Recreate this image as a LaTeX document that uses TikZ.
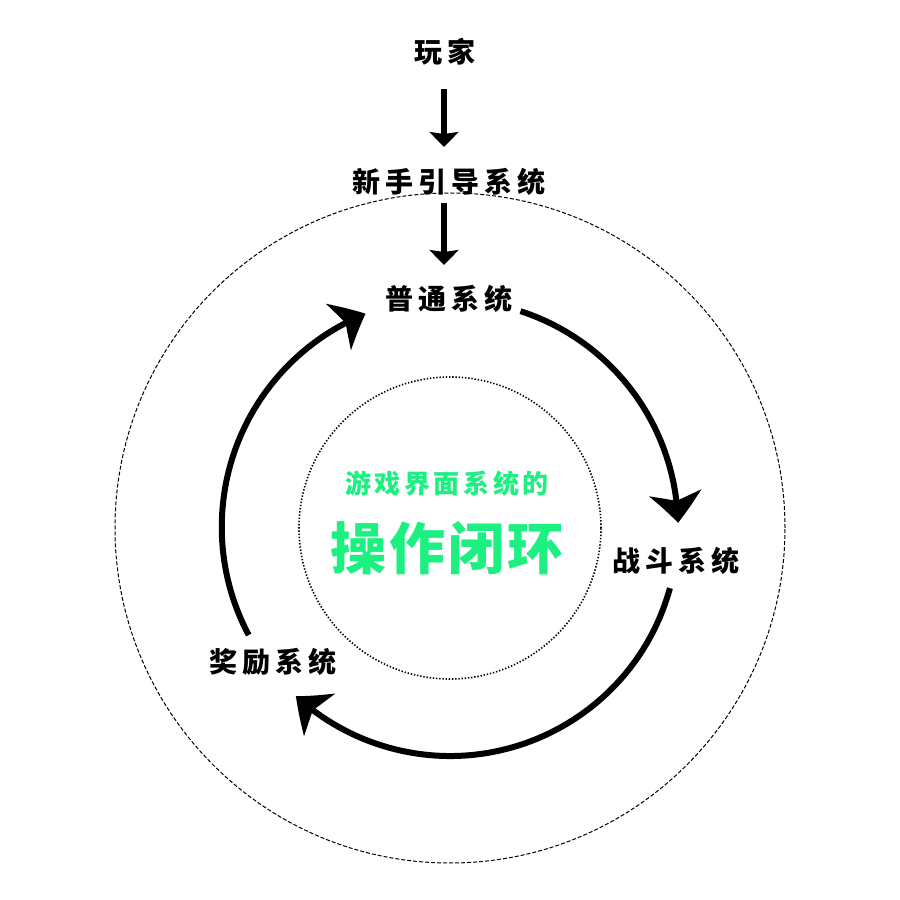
\documentclass[tikz,border=0pt]{standalone}
\usepackage{fontspec}
\usetikzlibrary{arrows.meta,bending,calc}
\newfontfamily\cjk[LetterSpace=18]{Noto Sans CJK SC}
\newfontfamily\cjksub[LetterSpace=14]{Noto Sans CJK SC}
\newfontfamily\cjkmain[LetterSpace=5]{Noto Sans CJK SC}
\definecolor{loopgreen}{RGB}{28,240,128}
\begin{document}
\begin{tikzpicture}[x=0.5pt,y=0.5pt,
  lbl/.style={font=\cjk\bfseries\fontsize{14pt}{16pt}\selectfont, inner sep=0pt},
  sublbl/.style={font=\cjksub\bfseries\fontsize{13pt}{15pt}\selectfont, text=loopgreen, inner sep=0pt},
  mainlbl/.style={font=\cjkmain\bfseries\fontsize{28pt}{30pt}\selectfont, text=loopgreen, inner sep=0pt},
  downarrow/.style={line width=3.3pt, -{Stealth[length=7.5pt,width=14.5pt,inset=1pt]}},
  looparrow/.style={line width=3pt, -{Stealth[length=15pt,width=26pt,inset=4pt,bend]}},
  outerring/.style={line width=0.5pt, dash pattern=on 2pt off 1pt},
  innerring/.style={line width=0.8pt, dash pattern=on 0.7pt off 0.9pt}]
\useasboundingbox (0,0) rectangle (900,900);
\coordinate (c) at (450,372);
\draw[outerring] (c) circle[radius=335];
\draw[innerring] (c) circle[radius=151];

\node[lbl] (player) at (445,848) {玩家};
\node[lbl] (guide) at (449,718) {新手引导系统};
\node[lbl] (normal) at (449,601) {普通系统};
\node[lbl] (battle) at (676,339) {战斗系统};
\node[lbl] (reward) at (273,238) {奖励系统};
\node[sublbl] (sub) at (447,416) {游戏界面系统的};
\node[mainlbl] (main) at (447,352) {操作闭环};

\coordinate (a1s) at ($(player)+(-1,-37)$);
\coordinate (a1e) at ($(guide)+(-5,35)$);
\coordinate (a2s) at ($(guide)+(-5,-21)$);
\coordinate (a2e) at ($(normal)+(-5,34)$);
\draw[downarrow] (a1s) -- (a1e);
\draw[downarrow] (a2s) -- (a2e);

\draw[looparrow] ($(c)+(72:228)$) arc[start angle=72, end angle=1.3, radius=228];
\draw[looparrow] ($(c)+(-15.3:228)$) arc[start angle=-15.3, end angle=-132.5, radius=228];
\draw[looparrow] ($(c)+(208:228)$) arc[start angle=208, end angle=112, radius=230];
\end{tikzpicture}
\end{document}
